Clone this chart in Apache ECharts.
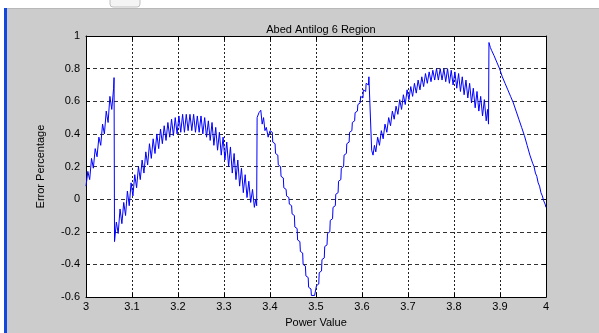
<!DOCTYPE html>
<html>
<head>
<meta charset="utf-8">
<script src="https://cdn.jsdelivr.net/npm/echarts@6/dist/echarts.min.js"></script>
<style>
  html, body { margin: 0; padding: 0; background: #cccccc; }
  #chart { width: 599px; height: 333px; }
</style>
</head>
<body>
<div id="chart"></div>
<script>
// tick labels
const xTickLabels = ['3', '3.1', '3.2', '3.3', '3.4', '3.5', '3.6', '3.7', '3.8', '3.9', '4'];
const yTickLabels = ['-0.6', '-0.4', '-0.2', '0', '0.2', '0.4', '0.6', '0.8', '1'];

// [power value, error percentage], region by region
const region1 = [
  [3.000, 0.08], [3.004, 0.17], [3.008, 0.12], [3.012, 0.25], [3.016, 0.19],
  [3.020, 0.31], [3.024, 0.26], [3.028, 0.38], [3.032, 0.33], [3.036, 0.46],
  [3.040, 0.40], [3.044, 0.54], [3.048, 0.47], [3.052, 0.63], [3.056, 0.55],
  [3.060, 0.68], [3.061, 0.745], [3.062, -0.26]
];

const region2 = [
  [3.066, -0.14], [3.070, -0.21], [3.074, -0.06], [3.078, -0.15], [3.082, -0.02],
  [3.086, -0.10], [3.090, 0.05], [3.094, -0.04], [3.098, 0.10], [3.102, 0.02],
  [3.106, 0.15], [3.110, 0.07], [3.114, 0.20], [3.118, 0.12], [3.122, 0.24],
  [3.126, 0.16], [3.130, 0.29], [3.134, 0.21], [3.138, 0.34], [3.142, 0.25],
  [3.146, 0.37], [3.150, 0.28], [3.154, 0.40], [3.158, 0.31], [3.162, 0.43],
  [3.166, 0.34], [3.170, 0.45], [3.174, 0.36], [3.178, 0.47], [3.182, 0.38],
  [3.186, 0.49], [3.190, 0.39], [3.194, 0.50], [3.198, 0.40], [3.202, 0.51],
  [3.206, 0.41], [3.210, 0.52], [3.214, 0.41], [3.218, 0.52], [3.222, 0.42],
  [3.226, 0.52], [3.230, 0.42], [3.234, 0.52], [3.238, 0.41], [3.242, 0.51],
  [3.246, 0.41], [3.250, 0.51], [3.254, 0.40], [3.258, 0.50], [3.262, 0.38],
  [3.266, 0.48], [3.270, 0.36], [3.274, 0.47], [3.278, 0.33], [3.282, 0.44],
  [3.286, 0.30], [3.290, 0.41], [3.294, 0.27], [3.298, 0.38], [3.302, 0.24],
  [3.306, 0.35], [3.310, 0.20], [3.314, 0.32], [3.318, 0.16], [3.322, 0.28],
  [3.326, 0.12], [3.330, 0.24], [3.334, 0.08], [3.338, 0.19], [3.342, 0.04],
  [3.346, 0.15], [3.350, 0.01], [3.354, 0.11], [3.358, -0.02], [3.362, 0.06],
  [3.366, -0.05], [3.369, 0.00], [3.371, -0.04]
];

const region3 = [
  [3.372, 0.50], [3.376, 0.53], [3.380, 0.545], [3.383, 0.46], [3.386, 0.50],
  [3.389, 0.42], [3.392, 0.44], [3.396, 0.38], [3.400, 0.42], [3.405, 0.41],
  [3.406, 0.35], [3.411, 0.34], [3.412, 0.28], [3.417, 0.27], [3.418, 0.21],
  [3.423, 0.20], [3.424, 0.14], [3.429, 0.13], [3.430, 0.07], [3.435, 0.06],
  [3.436, 0.02], [3.441, 0.01], [3.442, -0.03], [3.447, -0.04], [3.448, -0.09],
  [3.453, -0.10], [3.454, -0.17], [3.459, -0.18], [3.460, -0.25], [3.465, -0.26],
  [3.466, -0.32], [3.471, -0.33], [3.472, -0.40], [3.477, -0.41], [3.478, -0.47],
  [3.483, -0.48], [3.484, -0.54], [3.489, -0.55], [3.490, -0.59], [3.497, -0.59],
  [3.500, -0.58], [3.501, -0.53], [3.506, -0.52], [3.507, -0.45], [3.512, -0.44],
  [3.513, -0.37], [3.518, -0.36], [3.519, -0.29], [3.524, -0.28], [3.525, -0.21],
  [3.530, -0.20], [3.531, -0.13], [3.536, -0.12], [3.537, -0.05], [3.542, -0.04],
  [3.543, 0.03], [3.548, 0.04], [3.549, 0.11], [3.554, 0.12], [3.555, 0.19],
  [3.560, 0.20], [3.561, 0.27], [3.566, 0.28], [3.567, 0.34], [3.572, 0.35],
  [3.573, 0.41], [3.578, 0.42], [3.579, 0.47], [3.584, 0.48], [3.585, 0.53],
  [3.590, 0.54], [3.591, 0.58], [3.596, 0.59], [3.597, 0.63], [3.602, 0.62],
  [3.603, 0.67], [3.608, 0.66], [3.609, 0.71], [3.614, 0.70], [3.615, 0.75],
  [3.619, 0.74]
];

const region4 = [
  [3.621, 0.30], [3.624, 0.27], [3.627, 0.33], [3.630, 0.29], [3.634, 0.38],
  [3.638, 0.33], [3.642, 0.42], [3.646, 0.37], [3.650, 0.46], [3.654, 0.41],
  [3.658, 0.50], [3.662, 0.45], [3.666, 0.54], [3.670, 0.49], [3.674, 0.57],
  [3.678, 0.52], [3.682, 0.61], [3.686, 0.55], [3.690, 0.64], [3.694, 0.58],
  [3.698, 0.67], [3.702, 0.61], [3.706, 0.69], [3.710, 0.63], [3.714, 0.71],
  [3.718, 0.65], [3.722, 0.73], [3.726, 0.67], [3.730, 0.75], [3.734, 0.69],
  [3.738, 0.77], [3.742, 0.71], [3.746, 0.78], [3.750, 0.72], [3.754, 0.79],
  [3.758, 0.73], [3.762, 0.80], [3.766, 0.73], [3.770, 0.80], [3.774, 0.73],
  [3.778, 0.80], [3.782, 0.72], [3.786, 0.80], [3.790, 0.71], [3.794, 0.79],
  [3.798, 0.70], [3.802, 0.78], [3.806, 0.68], [3.810, 0.77], [3.814, 0.66],
  [3.818, 0.75], [3.822, 0.64], [3.826, 0.73], [3.830, 0.62], [3.834, 0.71],
  [3.838, 0.59], [3.842, 0.68], [3.846, 0.56], [3.850, 0.66], [3.854, 0.54],
  [3.858, 0.63], [3.862, 0.51], [3.866, 0.61], [3.870, 0.48], [3.873, 0.55],
  [3.875, 0.46]
];

const region5 = [
  [3.876, 0.96], [3.879, 0.93], [3.882, 0.91], [3.884, 0.92], [3.887, 0.88],
  [3.890, 0.87], [3.893, 0.84], [3.896, 0.83], [3.899, 0.80], [3.902, 0.79],
  [3.905, 0.75], [3.908, 0.74], [3.911, 0.71], [3.914, 0.70], [3.917, 0.67],
  [3.920, 0.66], [3.923, 0.63], [3.926, 0.62], [3.929, 0.59], [3.932, 0.58],
  [3.935, 0.54], [3.938, 0.53], [3.941, 0.49], [3.944, 0.48], [3.947, 0.44],
  [3.950, 0.43], [3.953, 0.39], [3.956, 0.38], [3.959, 0.33], [3.962, 0.32],
  [3.965, 0.27], [3.968, 0.26], [3.971, 0.22], [3.974, 0.20], [3.977, 0.16],
  [3.980, 0.14], [3.983, 0.10], [3.986, 0.08], [3.989, 0.04], [3.992, 0.02],
  [3.995, -0.01], [3.998, -0.03], [4.000, -0.05]
];

const errorData = [].concat(region1, region2, region3, region4, region5);

const chart = echarts.init(document.getElementById('chart'));
const font = 'Liberation Sans, Arial, sans-serif';

const tickStyle = { show: true, inside: true, length: 4, lineStyle: { color: '#000', width: 1 } };
const lineStyleBlack = { show: true, onZero: false, lineStyle: { color: '#000', width: 1 } };

chart.setOption({
  animation: false,
  backgroundColor: '#cccccc',
  title: {
    text: 'Abed Antilog 6 Region',
    left: 316,
    top: 19,
    textAlign: 'center',
    textStyle: { fontFamily: font, fontSize: 11, fontWeight: 'normal', color: '#000' }
  },
  grid: {
    left: 86, right: 53, top: 36, bottom: 33,
    show: true, backgroundColor: '#ffffff', borderWidth: 0
  },
  graphic: [
    { type: 'rect', shape: { x: 0, y: 0, width: 599, height: 9 }, style: { fill: '#ffffff' } },
    { type: 'rect', shape: { x: 0, y: 8, width: 599, height: 1 }, style: { fill: '#b8b8b8' } },
    { type: 'rect', shape: { x: 110, y: -4, width: 30, height: 11, r: 3 }, style: { fill: '#f4f4f4', stroke: '#c0c0c0' } },
    { type: 'rect', shape: { x: 0, y: 8, width: 4, height: 325 }, style: { fill: '#ffffff' } },
    { type: 'rect', shape: { x: 4, y: 8, width: 3, height: 325 }, style: { fill: '#1446e0' } }
  ],
  xAxis: [
    {
      type: 'value', min: 3, max: 4, interval: 0.1, position: 'bottom',
      name: 'Power Value', nameLocation: 'middle', nameGap: 16,
      nameTextStyle: { fontFamily: font, fontSize: 11, color: '#000' },
      axisLine: lineStyleBlack, axisTick: tickStyle,
      axisLabel: {
        fontFamily: font, fontSize: 11, color: '#000', margin: 4,
        formatter: (v, i) => xTickLabels[i]
      },
      splitLine: { show: true, lineStyle: { color: '#222', type: [2, 2], width: 1 } }
    },
    {
      type: 'value', min: 3, max: 4, interval: 0.1, position: 'top',
      axisLine: lineStyleBlack, axisTick: tickStyle,
      axisLabel: { show: false }, splitLine: { show: false }
    }
  ],
  yAxis: [
    {
      type: 'value', min: -0.6, max: 1, interval: 0.2, position: 'left',
      name: 'Error Percentage', nameLocation: 'middle', nameGap: 40,
      nameTextStyle: { fontFamily: font, fontSize: 11, color: '#000' },
      axisLine: lineStyleBlack, axisTick: tickStyle,
      axisLabel: {
        fontFamily: font, fontSize: 11, color: '#000', margin: 6,
        formatter: (v, i) => yTickLabels[i]
      },
      splitLine: { show: true, lineStyle: { color: '#333', type: [4, 3], width: 1 } }
    },
    {
      type: 'value', min: -0.6, max: 1, interval: 0.2, position: 'right',
      axisLine: lineStyleBlack, axisTick: tickStyle,
      axisLabel: { show: false }, splitLine: { show: false }
    }
  ],
  series: [
    {
      name: 'Error Percentage',
      type: 'line',
      xAxisIndex: 0,
      yAxisIndex: 0,
      data: errorData,
      showSymbol: false,
      lineStyle: { color: '#0000ff', width: 1 }
    }
  ]
});
</script>
</body>
</html>
